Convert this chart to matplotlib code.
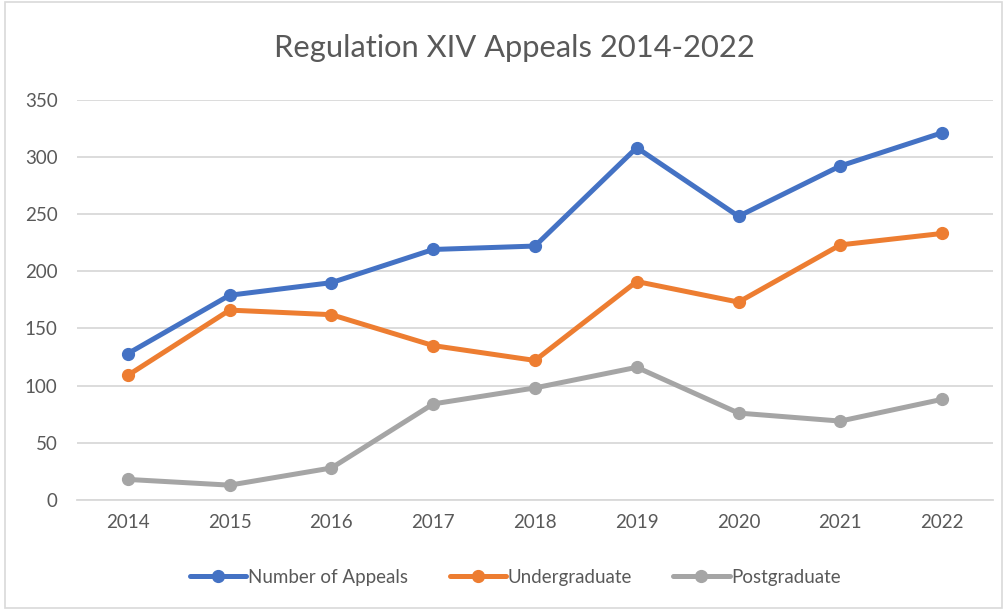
import matplotlib
matplotlib.use("Agg")
import matplotlib.pyplot as plt
from matplotlib.patches import Rectangle

years = ["2014", "2015", "2016", "2017", "2018", "2019", "2020", "2021", "2022"]
appeals = [128, 179, 190, 219, 222, 308, 248, 292, 321]
undergraduate = [109, 166, 162, 135, 122, 191, 173, 223, 233]
postgraduate = [18, 13, 28, 84, 98, 116, 76, 69, 88]
yticks = [0, 50, 100, 150, 200, 250, 300, 350]

plt.rcParams['font.family'] = ['Lato', 'DejaVu Sans']
txt = '#595959'

fig = plt.figure(figsize=(10.05, 6.1), dpi=100)
ax = fig.add_axes([0.0766, 0.1803, 0.9114, 0.6564])

x = list(range(len(years)))
series = [(appeals, 'Number of Appeals', '#4472C4'),
          (undergraduate, 'Undergraduate', '#ED7D31'),
          (postgraduate, 'Postgraduate', '#A5A5A5')]
for vals, lab, col in series:
    ax.plot(x, vals, color=col, lw=3.6, marker='o', ms=8.5, label=lab,
            solid_capstyle='round', zorder=3)

ax.set_xlim(-0.5, len(years) - 0.5)
ax.set_ylim(0, 350)
ax.set_yticks(yticks)
ax.set_xticks(x)
ax.set_xticklabels(years)
ax.grid(axis='y', color='#D9D9D9', lw=1.3, zorder=0)
for s in ['top', 'right', 'left']:
    ax.spines[s].set_visible(False)
ax.spines['bottom'].set_color('#D9D9D9')
ax.spines['bottom'].set_linewidth(1.3)
ax.tick_params(length=0, labelsize=13.5, colors=txt, pad=10)
ax.tick_params(axis='y', pad=14)

fig.text(0.5115, 0.921, 'Regulation XIV Appeals 2014-2022', ha='center', va='center',
         fontsize=22.2, color=txt)

leg = fig.legend(loc='center', bbox_to_anchor=(0.513, 0.054), ncol=3, frameon=False,
                 fontsize=13.5, handlelength=3.0, handletextpad=0.1, columnspacing=2.2)
for t in leg.get_texts():
    t.set_color(txt)

fig.patches.append(Rectangle((0.005, 0.004), 0.992, 0.993, transform=fig.transFigure,
                             fill=False, edgecolor='#D9D9D9', lw=1.2))

fig.savefig('out.png', dpi=100)
